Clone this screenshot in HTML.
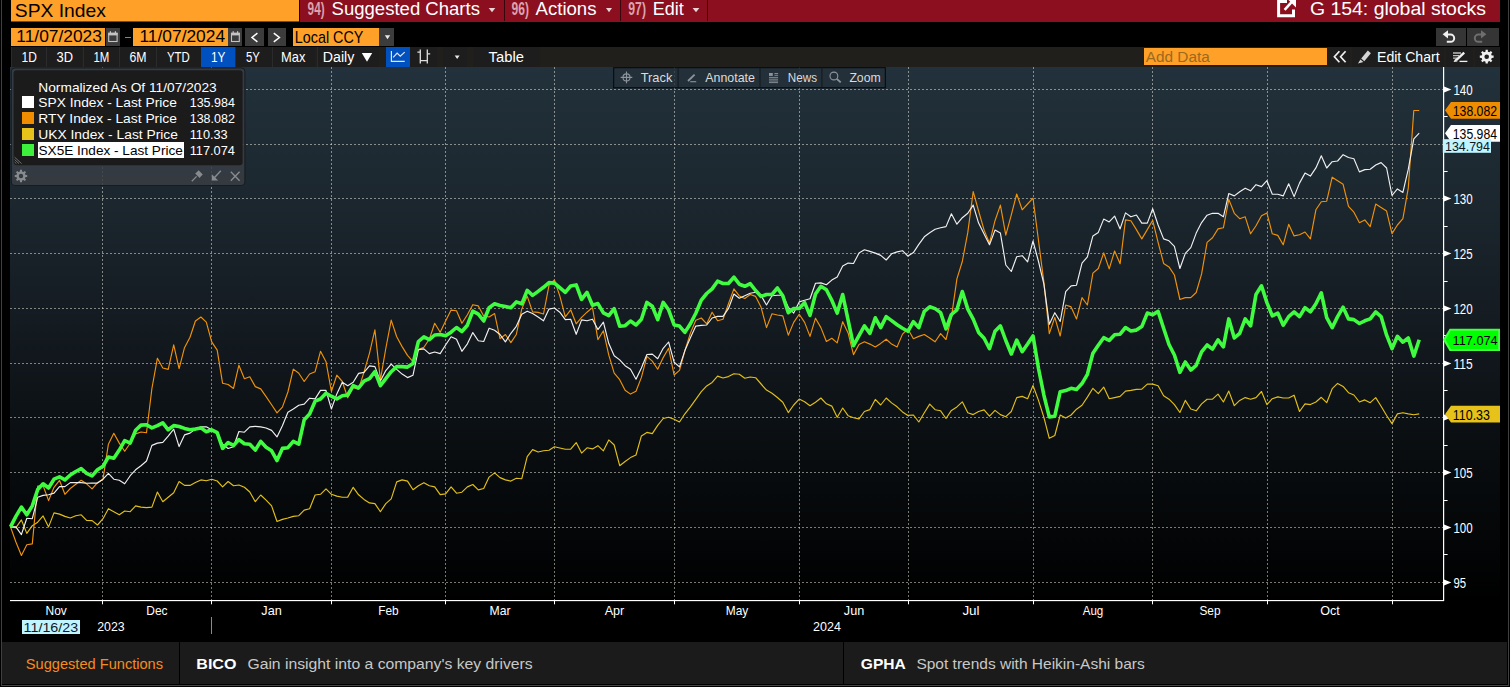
<!DOCTYPE html>
<html><head><meta charset="utf-8"><title>G 154</title>
<style>
html,body{margin:0;padding:0;background:#000;}
body{width:1510px;height:687px;overflow:hidden;position:relative;font-family:"Liberation Sans",sans-serif;}
.b{position:absolute;}
text{font-family:"Liberation Sans",sans-serif;white-space:pre;}
</style></head><body>
<div class="b" style="left:300.0px;top:0.0px;width:1200.0px;height:22.0px;background:#8B0F1F;"></div>
<div class="b" style="left:10.7px;top:0.0px;width:288.3px;height:21.0px;background:#FFA028;border-bottom:1px solid #7a4a10;"></div>
<div class="b" style="left:503.5px;top:0.0px;width:1.3px;height:21.0px;background:#3a060d;"></div>
<div class="b" style="left:619.5px;top:0.0px;width:1.3px;height:21.0px;background:#3a060d;"></div>
<div class="b" style="left:707.0px;top:0.0px;width:1.3px;height:21.0px;background:#3a060d;"></div>
<div class="b" style="left:10.7px;top:28.0px;width:94.3px;height:18.0px;background:#FFA028;"></div>
<div class="b" style="left:106.0px;top:28.0px;width:14.0px;height:18.0px;background:#3c3c3c;"></div>
<div class="b" style="left:125.0px;top:36.5px;width:6.0px;height:1.5px;background:#c87818;"></div>
<div class="b" style="left:133.0px;top:28.0px;width:94.5px;height:18.0px;background:#FFA028;"></div>
<div class="b" style="left:228.0px;top:28.0px;width:14.0px;height:18.0px;background:#3c3c3c;"></div>
<div class="b" style="left:245.0px;top:28.0px;width:19.0px;height:18.0px;background:#3c3c3c;"></div>
<div class="b" style="left:267.5px;top:28.0px;width:18.0px;height:18.0px;background:#3c3c3c;"></div>
<div class="b" style="left:292.8px;top:28.0px;width:86.2px;height:18.0px;background:#FFA028;"></div>
<div class="b" style="left:379.0px;top:28.0px;width:15.0px;height:18.0px;background:#3c3c3c;"></div>
<div class="b" style="left:1436.0px;top:28.0px;width:30.0px;height:18.0px;background:#353535;"></div>
<div class="b" style="left:1467.0px;top:28.0px;width:32.0px;height:18.0px;background:#353535;"></div>
<div class="b" style="left:10.7px;top:47.0px;width:1489.3px;height:20.0px;background:#201f1b;"></div>
<div class="b" style="left:10.9px;top:47.0px;width:35.4px;height:20.0px;background:#1d1d1d;border-left:1px solid #2b2b2b;box-sizing:border-box;"></div>
<div class="b" style="left:46.3px;top:47.0px;width:36.2px;height:20.0px;background:#1d1d1d;border-left:1px solid #2b2b2b;box-sizing:border-box;"></div>
<div class="b" style="left:82.5px;top:47.0px;width:36.7px;height:20.0px;background:#1d1d1d;border-left:1px solid #2b2b2b;box-sizing:border-box;"></div>
<div class="b" style="left:119.2px;top:47.0px;width:36.8px;height:20.0px;background:#1d1d1d;border-left:1px solid #2b2b2b;box-sizing:border-box;"></div>
<div class="b" style="left:156.0px;top:47.0px;width:44.7px;height:20.0px;background:#1d1d1d;border-left:1px solid #2b2b2b;box-sizing:border-box;"></div>
<div class="b" style="left:200.7px;top:47.0px;width:34.3px;height:20.0px;background:#0050c0;"></div>
<div class="b" style="left:235.0px;top:47.0px;width:37.2px;height:20.0px;background:#1d1d1d;border-left:1px solid #2b2b2b;box-sizing:border-box;"></div>
<div class="b" style="left:272.2px;top:47.0px;width:43.1px;height:20.0px;background:#1d1d1d;border-left:1px solid #2b2b2b;box-sizing:border-box;"></div>
<div class="b" style="left:317.0px;top:47.0px;width:62.3px;height:20.0px;background:#1d1d1d;border-left:1px solid #2b2b2b;box-sizing:border-box;"></div>
<div class="b" style="left:385.8px;top:47.0px;width:24.2px;height:20.0px;background:#0050c0;"></div>
<div class="b" style="left:410.0px;top:47.0px;width:26.5px;height:20.0px;background:#1d1d1d;"></div>
<div class="b" style="left:443.0px;top:47.0px;width:24.0px;height:20.0px;background:#1d1d1d;"></div>
<div class="b" style="left:472.7px;top:47.0px;width:67.3px;height:20.0px;background:#1d1d1d;"></div>
<div class="b" style="left:1144.0px;top:47.7px;width:183.0px;height:17.6px;background:#FFA028;"></div>
<div class="b" style="left:1329.0px;top:47.0px;width:21.0px;height:20.0px;background:#1d1d1d;"></div>
<div class="b" style="left:1351.7px;top:47.0px;width:92.8px;height:20.0px;background:#1d1d1d;"></div>
<div class="b" style="left:1446.0px;top:47.0px;width:27.3px;height:20.0px;background:#1d1d1d;"></div>
<div class="b" style="left:1474.5px;top:47.0px;width:24.8px;height:20.0px;background:#1d1d1d;"></div>
<svg class="b" style="left:0;top:0" width="1510" height="687" viewBox="0 0 1510 687">
<defs><linearGradient id="g" x1="0" y1="0" x2="0" y2="1"><stop offset="0" stop-color="#22313b"/><stop offset="0.2" stop-color="#1d2931"/><stop offset="0.4" stop-color="#171f26"/><stop offset="0.725" stop-color="#090d10"/><stop offset="1" stop-color="#000"/></linearGradient></defs>
<rect x="10" y="67" width="1490" height="534" fill="url(#g)"/>
<rect x="1444.5" y="601" width="56" height="41" fill="#000"/>
<g shape-rendering="crispEdges">
<line x1="102.5" y1="67" x2="102.5" y2="600" stroke="#fffff0" stroke-opacity="0.47" stroke-width="1" stroke-dasharray="2,2"/>
<line x1="211.5" y1="67" x2="211.5" y2="600" stroke="#fffff0" stroke-opacity="0.47" stroke-width="1" stroke-dasharray="2,2"/>
<line x1="331.5" y1="67" x2="331.5" y2="600" stroke="#fffff0" stroke-opacity="0.47" stroke-width="1" stroke-dasharray="2,2"/>
<line x1="445.5" y1="67" x2="445.5" y2="600" stroke="#fffff0" stroke-opacity="0.47" stroke-width="1" stroke-dasharray="2,2"/>
<line x1="554.5" y1="67" x2="554.5" y2="600" stroke="#fffff0" stroke-opacity="0.47" stroke-width="1" stroke-dasharray="2,2"/>
<line x1="674.5" y1="67" x2="674.5" y2="600" stroke="#fffff0" stroke-opacity="0.47" stroke-width="1" stroke-dasharray="2,2"/>
<line x1="799.5" y1="67" x2="799.5" y2="600" stroke="#fffff0" stroke-opacity="0.47" stroke-width="1" stroke-dasharray="2,2"/>
<line x1="908.5" y1="67" x2="908.5" y2="600" stroke="#fffff0" stroke-opacity="0.47" stroke-width="1" stroke-dasharray="2,2"/>
<line x1="1033.5" y1="67" x2="1033.5" y2="600" stroke="#fffff0" stroke-opacity="0.47" stroke-width="1" stroke-dasharray="2,2"/>
<line x1="1152.5" y1="67" x2="1152.5" y2="600" stroke="#fffff0" stroke-opacity="0.47" stroke-width="1" stroke-dasharray="2,2"/>
<line x1="1267.5" y1="67" x2="1267.5" y2="600" stroke="#fffff0" stroke-opacity="0.47" stroke-width="1" stroke-dasharray="2,2"/>
<line x1="1392.5" y1="67" x2="1392.5" y2="600" stroke="#fffff0" stroke-opacity="0.47" stroke-width="1" stroke-dasharray="2,2"/>
<line x1="10" y1="89.5" x2="1443" y2="89.5" stroke="#fffff0" stroke-opacity="0.47" stroke-width="1" stroke-dasharray="2,2"/>
<line x1="10" y1="144.5" x2="1443" y2="144.5" stroke="#fffff0" stroke-opacity="0.47" stroke-width="1" stroke-dasharray="2,2"/>
<line x1="10" y1="198.5" x2="1443" y2="198.5" stroke="#fffff0" stroke-opacity="0.47" stroke-width="1" stroke-dasharray="2,2"/>
<line x1="10" y1="253.5" x2="1443" y2="253.5" stroke="#fffff0" stroke-opacity="0.47" stroke-width="1" stroke-dasharray="2,2"/>
<line x1="10" y1="308.5" x2="1443" y2="308.5" stroke="#fffff0" stroke-opacity="0.47" stroke-width="1" stroke-dasharray="2,2"/>
<line x1="10" y1="363.5" x2="1443" y2="363.5" stroke="#fffff0" stroke-opacity="0.47" stroke-width="1" stroke-dasharray="2,2"/>
<line x1="10" y1="417.5" x2="1443" y2="417.5" stroke="#fffff0" stroke-opacity="0.47" stroke-width="1" stroke-dasharray="2,2"/>
<line x1="10" y1="472.5" x2="1443" y2="472.5" stroke="#fffff0" stroke-opacity="0.47" stroke-width="1" stroke-dasharray="2,2"/>
<line x1="10" y1="527.5" x2="1443" y2="527.5" stroke="#fffff0" stroke-opacity="0.47" stroke-width="1" stroke-dasharray="2,2"/>
<line x1="10" y1="582.5" x2="1443" y2="582.5" stroke="#fffff0" stroke-opacity="0.47" stroke-width="1" stroke-dasharray="2,2"/>
</g>
<rect x="102.0" y="600" width="1" height="4.3" fill="#fff"/>
<rect x="211.0" y="600" width="1" height="4.3" fill="#fff"/>
<rect x="331.0" y="600" width="1" height="4.3" fill="#fff"/>
<rect x="445.0" y="600" width="1" height="4.3" fill="#fff"/>
<rect x="554.0" y="600" width="1" height="4.3" fill="#fff"/>
<rect x="674.0" y="600" width="1" height="4.3" fill="#fff"/>
<rect x="799.0" y="600" width="1" height="4.3" fill="#fff"/>
<rect x="908.0" y="600" width="1" height="4.3" fill="#fff"/>
<rect x="1033.0" y="600" width="1" height="4.3" fill="#fff"/>
<rect x="1152.0" y="600" width="1" height="4.3" fill="#fff"/>
<rect x="1267.0" y="600" width="1" height="4.3" fill="#fff"/>
<rect x="1392.0" y="600" width="1" height="4.3" fill="#fff"/>
<rect x="613.7" y="67.7" width="271.6" height="20.1" fill="#26313a" fill-opacity="0.8" stroke="#04070a" stroke-width="1"/>
<line x1="678.1" y1="68.3" x2="678.1" y2="87.3" stroke="#141b21" stroke-width="1.2"/>
<line x1="760" y1="68.3" x2="760" y2="87.3" stroke="#141b21" stroke-width="1.2"/>
<line x1="821.9" y1="68.3" x2="821.9" y2="87.3" stroke="#141b21" stroke-width="1.2"/>
<rect x="11.3" y="68" width="233.6" height="117.5" rx="3.5" fill="#383e43" fill-opacity="0.86" stroke="#161b1f" stroke-width="1"/>
<rect x="13.6" y="70.3" width="229" height="95" rx="3" fill="#1b1b1b"/>
<polyline points="10.5,526.9 15.9,527.6 21.4,519.9 26.8,533.4 32.3,525.7 37.7,522.2 43.1,515.9 48.6,526.9 54.0,512.9 59.5,514.1 64.9,516.4 70.3,518.0 75.8,515.7 81.2,514.8 86.6,520.4 92.1,520.6 97.5,525.0 103.0,518.7 108.4,508.7 113.8,511.7 119.3,514.8 124.7,511.0 130.2,511.7 135.6,505.9 141.0,507.1 146.5,507.6 151.9,507.1 157.4,492.0 162.8,501.7 168.2,497.3 173.7,492.7 179.1,481.5 184.5,485.4 190.0,485.4 195.4,482.6 200.9,479.9 206.3,480.8 211.7,479.2 217.2,481.0 222.6,486.8 228.1,481.5 233.5,485.7 238.9,485.0 244.4,487.3 249.8,492.0 255.3,501.7 260.7,495.0 266.1,500.1 271.6,505.9 277.0,521.5 282.4,519.4 287.9,518.0 293.3,516.4 298.8,515.7 304.2,510.1 309.6,508.7 315.1,495.0 320.5,494.3 326.0,488.9 331.4,494.3 336.8,496.1 342.3,497.3 347.7,497.1 353.2,487.3 358.6,494.8 364.0,499.4 369.5,502.9 374.9,503.6 380.4,511.7 385.8,503.6 391.2,498.9 396.7,481.9 402.1,479.9 407.5,481.1 413.0,489.7 418.4,485.7 423.9,482.7 429.3,485.7 434.7,486.9 440.2,494.6 445.6,493.9 451.1,486.9 456.5,493.2 461.9,492.2 467.4,486.9 472.8,484.5 478.3,489.9 483.7,488.5 489.1,477.1 494.6,472.9 500.0,477.6 505.4,479.9 510.9,481.1 516.3,478.3 521.8,478.7 527.2,456.6 532.6,449.6 538.1,452.0 543.5,450.8 549.0,450.3 554.4,446.8 559.8,448.0 565.3,449.2 570.7,449.2 576.2,442.6 581.6,453.1 587.0,447.8 592.5,448.9 597.9,445.7 603.4,450.8 608.8,439.9 614.2,445.0 619.7,465.7 625.1,461.5 630.5,457.6 636.0,455.0 641.4,435.9 646.9,432.4 652.3,433.6 657.7,425.4 663.2,418.5 668.6,417.3 674.1,419.2 679.5,422.0 684.9,413.8 690.4,406.8 695.8,399.4 701.3,391.7 706.7,385.9 712.1,382.4 717.6,376.1 723.0,378.0 728.4,376.6 733.9,373.8 739.3,374.2 744.8,378.2 750.2,377.0 755.6,377.7 761.1,384.0 766.5,390.1 772.0,393.3 777.4,397.5 782.8,402.2 788.3,412.6 793.7,405.0 799.2,399.1 804.6,401.7 810.0,405.7 815.5,402.2 820.9,398.0 826.4,403.8 831.8,406.1 837.2,417.3 842.7,408.0 848.1,415.7 853.5,417.8 859.0,418.9 864.4,411.5 869.9,409.6 875.3,399.4 880.7,405.0 886.2,398.0 891.6,402.9 897.1,406.8 902.5,411.9 907.9,415.4 913.4,415.0 918.8,422.0 924.3,412.7 929.7,404.1 935.1,409.7 940.6,410.8 946.0,418.5 951.4,410.4 956.9,406.9 962.3,401.8 967.8,412.7 973.2,414.6 978.6,411.5 984.1,409.9 989.5,416.2 995.0,410.4 1000.4,414.6 1005.8,416.7 1011.3,411.5 1016.7,397.6 1022.2,396.4 1027.6,398.7 1033.0,385.5 1038.5,400.4 1043.9,417.4 1049.3,438.3 1054.8,435.5 1060.2,415.0 1065.7,418.1 1071.1,415.0 1076.5,409.2 1082.0,405.2 1087.4,397.1 1092.9,388.3 1098.3,393.6 1103.7,387.1 1109.2,398.7 1114.6,397.6 1120.1,396.4 1125.5,391.1 1130.9,390.4 1136.4,389.4 1141.8,389.2 1147.3,384.1 1152.7,384.1 1158.1,385.7 1163.6,395.7 1169.0,399.2 1174.4,404.6 1179.9,412.5 1185.3,400.4 1190.8,409.0 1196.2,410.8 1201.6,403.9 1207.1,399.2 1212.5,399.2 1218.0,394.1 1223.4,402.0 1228.8,391.1 1234.3,405.7 1239.7,400.4 1245.2,397.6 1250.6,399.2 1256.0,397.6 1261.5,391.5 1266.9,404.6 1272.3,398.7 1277.8,396.9 1283.2,398.0 1288.7,398.0 1294.1,395.2 1299.5,411.5 1305.0,403.9 1310.4,404.6 1315.9,402.0 1321.3,397.3 1326.7,402.7 1332.2,388.7 1337.6,383.4 1343.1,386.4 1348.5,392.7 1353.9,395.0 1359.4,402.0 1364.8,399.9 1370.2,402.7 1375.7,397.6 1381.1,406.2 1386.6,415.5 1392.0,423.6 1397.4,413.9 1402.9,412.7 1408.3,413.9 1413.8,414.8 1419.2,413.9" fill="none" stroke="#e2c01a" stroke-width="1.15" stroke-linejoin="round"/>
<polyline points="10.5,526.9 15.9,542.0 21.4,555.5 26.8,544.8 32.3,543.9 37.7,486.1 43.1,485.7 48.6,500.6 54.0,487.3 59.5,480.3 64.9,494.3 70.3,488.5 75.8,484.3 81.2,480.3 86.6,483.8 92.1,488.9 97.5,482.6 103.0,479.2 108.4,444.2 113.8,433.3 119.3,443.1 124.7,451.3 130.2,443.2 135.6,433.9 141.0,432.0 146.5,432.7 151.9,388.5 157.4,358.2 162.8,368.0 168.2,369.4 173.7,344.9 179.1,368.7 184.5,347.7 190.0,337.2 195.4,321.0 200.9,317.0 206.3,322.1 211.7,341.9 217.2,350.1 222.6,383.3 228.1,384.5 233.5,388.5 238.9,365.2 244.4,378.7 249.8,376.8 255.3,386.6 260.7,388.9 266.1,396.6 271.6,404.8 277.0,412.9 282.4,407.1 287.9,392.0 293.3,369.1 298.8,373.3 304.2,381.5 309.6,374.0 315.1,371.7 320.5,351.3 326.0,361.7 331.4,391.5 336.8,375.2 342.3,381.5 347.7,397.8 353.2,387.6 358.6,389.2 364.0,372.2 369.5,353.1 374.9,329.8 380.4,379.9 385.8,348.5 391.2,320.1 396.7,336.8 402.1,346.6 407.5,355.4 413.0,361.7 418.4,349.6 423.9,347.3 429.3,339.2 434.7,323.3 440.2,332.2 445.6,321.0 451.1,310.1 456.5,310.8 461.9,323.3 467.4,314.7 472.8,304.7 478.3,305.9 483.7,315.9 489.1,317.0 494.6,313.5 500.0,338.7 505.4,334.5 510.9,342.6 516.3,334.5 521.8,308.9 527.2,296.1 532.6,311.9 538.1,312.4 543.5,314.0 549.0,285.4 554.4,280.0 559.8,295.9 565.3,316.8 570.7,309.8 576.2,323.8 581.6,317.3 587.0,312.2 592.5,307.5 597.9,339.6 603.4,330.8 608.8,355.2 614.2,373.2 619.7,379.7 625.1,390.2 630.5,394.1 636.0,391.3 641.4,377.4 646.9,356.4 652.3,361.1 657.7,369.2 663.2,357.6 668.6,348.3 674.1,375.0 679.5,370.4 684.9,350.6 690.4,333.1 695.8,320.3 701.3,318.0 706.7,323.8 712.1,312.2 717.6,320.8 723.0,319.2 728.4,304.0 733.9,288.9 739.3,295.9 744.8,298.5 750.2,294.5 755.6,296.4 761.1,307.3 766.5,327.6 772.0,313.8 777.4,315.0 782.8,315.9 788.3,335.2 793.7,322.4 799.2,314.3 804.6,322.4 810.0,336.4 815.5,318.2 820.9,327.6 826.4,341.5 831.8,338.3 837.2,342.9 842.7,321.7 848.1,332.9 853.5,354.6 859.0,344.5 864.4,341.8 869.9,344.1 875.3,346.9 880.7,343.4 886.2,339.2 891.6,344.1 897.1,346.9 902.5,334.1 907.9,329.0 913.4,338.7 918.8,336.4 924.3,334.5 929.7,338.0 935.1,341.8 940.6,333.6 946.0,339.5 951.4,317.4 956.9,278.9 962.3,261.5 967.8,232.4 973.2,191.6 978.6,211.0 984.1,230.1 989.5,242.9 995.0,220.7 1000.4,205.1 1005.8,235.2 1011.3,214.9 1016.7,194.0 1022.2,209.8 1027.6,204.0 1033.0,198.2 1038.5,240.5 1043.9,282.4 1049.3,333.6 1054.8,317.4 1060.2,336.0 1065.7,305.0 1071.1,306.9 1076.5,319.0 1082.0,297.6 1087.4,305.0 1092.9,273.1 1098.3,268.5 1103.7,252.9 1109.2,268.9 1114.6,251.0 1120.1,263.8 1125.5,219.9 1130.9,220.8 1136.4,229.6 1141.8,238.9 1147.3,229.6 1152.7,220.3 1158.1,242.4 1163.6,263.4 1169.0,266.9 1174.4,275.0 1179.9,299.5 1185.3,297.6 1190.8,297.6 1196.2,292.5 1201.6,273.9 1207.1,242.4 1212.5,237.8 1218.0,228.9 1223.4,227.8 1228.8,199.4 1234.3,213.3 1239.7,218.7 1245.2,216.8 1250.6,233.8 1256.0,225.7 1261.5,215.7 1266.9,212.9 1272.3,233.8 1277.8,235.4 1283.2,244.8 1288.7,224.3 1294.1,235.9 1299.5,234.8 1305.0,232.0 1310.4,238.9 1315.9,209.8 1321.3,201.7 1326.7,201.2 1332.2,177.2 1337.6,180.7 1343.1,184.3 1348.5,206.4 1353.9,212.2 1359.4,222.7 1364.8,219.9 1370.2,226.7 1375.7,204.1 1381.1,207.6 1386.6,211.1 1392.0,233.6 1397.4,225.0 1402.9,218.7 1408.3,187.8 1413.8,110.5 1419.2,110.5" fill="none" stroke="#f0920a" stroke-width="1.15" stroke-linejoin="round"/>
<polyline points="10.5,526.9 15.9,526.9 21.4,534.6 26.8,518.3 32.3,518.7 37.7,497.3 43.1,495.4 48.6,494.8 54.0,493.1 59.5,486.6 64.9,486.6 70.3,482.6 75.8,482.6 81.2,482.6 86.6,483.3 92.1,483.1 97.5,483.1 103.0,479.2 108.4,473.3 113.8,479.2 119.3,480.3 124.7,483.8 130.2,475.7 135.6,469.8 141.0,465.7 146.5,461.0 151.9,445.4 157.4,443.1 162.8,442.4 168.2,436.1 173.7,429.1 179.1,446.6 184.5,434.9 190.0,433.1 195.4,429.1 200.9,426.8 206.3,426.8 211.7,429.8 217.2,432.6 222.6,444.3 228.1,448.5 233.5,446.7 238.9,431.5 244.4,432.2 249.8,426.9 255.3,426.4 260.7,426.9 266.1,428.0 271.6,430.4 277.0,436.9 282.4,425.7 287.9,412.2 293.3,409.0 298.8,405.2 304.2,404.1 309.6,398.2 315.1,398.9 320.5,390.4 326.0,390.4 331.4,409.0 336.8,393.9 342.3,382.2 347.7,385.7 353.2,382.2 358.6,373.4 364.0,372.4 369.5,365.9 374.9,366.6 380.4,381.1 385.8,370.6 391.2,364.1 396.7,369.4 402.1,374.1 407.5,377.6 413.0,375.2 418.4,349.6 423.9,348.9 429.3,353.6 434.7,352.0 440.2,353.6 445.6,345.0 451.1,336.8 456.5,339.2 461.9,351.3 467.4,343.8 472.8,332.6 478.3,340.8 483.7,341.5 489.1,328.2 494.6,330.3 500.0,334.5 505.4,341.9 510.9,333.3 516.3,326.3 521.8,314.2 527.2,311.2 532.6,313.5 538.1,317.0 543.5,320.8 549.0,309.1 554.4,308.0 559.8,312.2 565.3,319.6 570.7,319.2 576.2,334.3 581.6,319.9 587.0,320.8 592.5,319.2 597.9,329.6 603.4,322.2 608.8,343.6 614.2,355.7 619.7,359.9 625.1,365.7 630.5,369.2 636.0,379.2 641.4,368.0 646.9,354.5 652.3,354.1 657.7,358.7 663.2,348.3 668.6,342.0 674.1,362.2 679.5,366.9 684.9,350.6 690.4,337.8 695.8,326.1 701.3,325.4 706.7,325.0 712.1,318.0 717.6,316.4 723.0,316.4 728.4,308.7 733.9,294.0 739.3,298.2 744.8,295.7 750.2,293.3 755.6,292.2 761.1,295.7 766.5,305.0 772.0,295.7 777.4,295.2 782.8,295.2 788.3,307.3 793.7,313.1 799.2,301.9 804.6,300.3 810.0,298.7 815.5,283.3 820.9,282.9 826.4,284.7 831.8,280.1 837.2,277.0 842.7,266.1 848.1,263.1 853.5,263.5 859.0,253.1 864.4,249.8 869.9,251.4 875.3,253.1 880.7,255.4 886.2,260.0 891.6,253.8 897.1,251.9 902.5,250.7 907.9,256.1 913.4,252.6 918.8,244.4 924.3,236.8 929.7,232.8 935.1,229.3 940.6,227.7 946.0,226.6 951.4,213.8 956.9,224.2 962.3,217.7 967.8,213.3 973.2,205.1 978.6,223.1 984.1,234.0 989.5,244.7 995.0,230.1 1000.4,233.1 1005.8,265.0 1011.3,271.5 1016.7,256.8 1022.2,255.7 1027.6,261.9 1033.0,241.0 1038.5,261.5 1043.9,284.1 1049.3,324.3 1054.8,312.7 1060.2,321.5 1065.7,291.7 1071.1,285.9 1076.5,285.2 1082.0,263.1 1087.4,256.8 1092.9,235.9 1098.3,232.4 1103.7,219.1 1109.2,221.9 1114.6,216.1 1120.1,228.9 1125.5,212.9 1130.9,216.8 1136.4,215.0 1141.8,223.1 1147.3,223.1 1152.7,208.7 1158.1,225.0 1163.6,238.9 1169.0,240.8 1174.4,246.4 1179.9,268.5 1185.3,253.4 1190.8,247.6 1196.2,233.1 1201.6,222.6 1207.1,215.2 1212.5,213.3 1218.0,213.3 1223.4,216.8 1228.8,193.5 1234.3,195.9 1239.7,191.7 1245.2,188.2 1250.6,190.8 1256.0,184.7 1261.5,186.6 1266.9,180.7 1272.3,194.2 1277.8,194.2 1283.2,195.9 1288.7,183.8 1294.1,196.6 1299.5,183.1 1305.0,173.1 1310.4,176.1 1315.9,167.9 1321.3,155.8 1326.7,168.0 1332.2,161.7 1337.6,161.0 1343.1,154.7 1348.5,157.5 1353.9,158.7 1359.4,171.9 1364.8,169.6 1370.2,169.2 1375.7,165.0 1381.1,162.6 1386.6,168.0 1392.0,195.5 1397.4,188.9 1402.9,192.4 1408.3,169.2 1413.8,138.9 1419.2,133.1" fill="none" stroke="#f0f0f0" stroke-width="1.15" stroke-linejoin="round"/>
<polyline points="10.5,526.9 15.9,516.4 21.4,507.1 26.8,514.8 32.3,505.9 37.7,489.6 43.1,483.8 48.6,488.0 54.0,479.2 59.5,476.8 64.9,479.9 70.3,475.0 75.8,471.5 81.2,468.7 86.6,473.3 92.1,475.9 97.5,469.8 103.0,466.3 108.4,457.0 113.8,458.2 119.3,450.1 124.7,440.7 130.2,443.1 135.6,430.3 141.0,425.1 146.5,424.7 151.9,427.9 157.4,425.6 162.8,422.8 168.2,429.8 173.7,425.6 179.1,426.5 184.5,428.4 190.0,429.8 195.4,429.1 200.9,427.9 206.3,431.7 211.7,429.8 217.2,432.6 222.6,448.4 228.1,442.6 233.5,445.4 238.9,439.6 244.4,443.8 249.8,444.2 255.3,450.1 260.7,441.4 266.1,447.3 271.6,450.8 277.0,460.5 282.4,448.4 287.9,447.7 293.3,441.4 298.8,444.2 304.2,419.8 309.6,414.0 315.1,401.2 320.5,399.0 326.0,393.2 331.4,396.2 336.8,399.0 342.3,395.7 347.7,395.0 353.2,385.7 358.6,388.0 364.0,381.1 369.5,378.7 374.9,371.7 380.4,385.7 385.8,378.7 391.2,371.7 396.7,366.6 402.1,366.6 407.5,367.1 413.0,363.6 418.4,341.5 423.9,336.8 429.3,339.6 434.7,335.0 440.2,334.5 445.6,335.7 451.1,332.2 456.5,327.5 461.9,331.5 467.4,325.2 472.8,311.2 478.3,314.2 483.7,321.0 489.1,307.7 494.6,303.8 500.0,305.4 505.4,306.6 510.9,307.7 516.3,301.9 521.8,303.8 527.2,290.3 532.6,295.4 538.1,291.4 543.5,287.3 549.0,282.6 554.4,283.1 559.8,287.7 565.3,292.4 570.7,285.9 576.2,284.9 581.6,299.4 587.0,292.4 592.5,305.2 597.9,303.6 603.4,312.9 608.8,315.7 614.2,308.7 619.7,326.1 625.1,325.7 630.5,321.0 636.0,325.0 641.4,319.2 646.9,302.4 652.3,306.3 657.7,319.6 663.2,302.4 668.6,309.8 674.1,325.0 679.5,326.1 684.9,332.4 690.4,323.8 695.8,313.3 701.3,300.1 706.7,293.5 712.1,288.9 717.6,281.2 723.0,283.5 728.4,283.5 733.9,277.2 739.3,284.2 744.8,286.3 750.2,283.6 755.6,290.5 761.1,296.4 766.5,294.5 772.0,294.5 777.4,288.0 782.8,295.7 788.3,312.7 793.7,308.5 799.2,308.5 804.6,302.6 810.0,315.4 815.5,294.0 820.9,286.3 826.4,289.8 831.8,300.3 837.2,313.1 842.7,294.5 848.1,320.1 853.5,345.7 859.0,335.7 864.4,325.9 869.9,333.4 875.3,317.8 880.7,327.6 886.2,316.6 891.6,320.6 897.1,324.8 902.5,328.3 907.9,331.3 913.4,321.7 918.8,327.6 924.3,311.4 929.7,306.8 935.1,308.6 940.6,312.6 946.0,328.9 951.4,314.5 956.9,309.8 962.3,291.6 967.8,309.1 973.2,319.1 978.6,332.4 984.1,338.2 989.5,348.7 995.0,331.2 1000.4,325.9 1005.8,340.5 1011.3,354.0 1016.7,340.1 1022.2,351.7 1027.6,344.0 1033.0,335.9 1038.5,368.5 1043.9,395.2 1049.3,416.9 1054.8,416.2 1060.2,391.7 1065.7,390.6 1071.1,388.3 1076.5,389.4 1082.0,383.6 1087.4,374.3 1092.9,353.3 1098.3,345.2 1103.7,337.7 1109.2,340.5 1114.6,334.7 1120.1,334.2 1125.5,327.5 1130.9,331.0 1136.4,330.1 1141.8,326.6 1147.3,313.1 1152.7,314.7 1158.1,311.4 1163.6,328.2 1169.0,344.5 1174.4,355.0 1179.9,372.4 1185.3,362.0 1190.8,370.1 1196.2,365.4 1201.6,351.9 1207.1,345.0 1212.5,349.2 1218.0,339.8 1223.4,346.8 1228.8,318.9 1234.3,338.0 1239.7,333.3 1245.2,318.9 1250.6,325.9 1256.0,294.4 1261.5,285.8 1266.9,302.6 1272.3,315.9 1277.8,313.1 1283.2,325.2 1288.7,316.6 1294.1,311.9 1299.5,316.6 1305.0,307.7 1310.4,311.9 1315.9,303.8 1321.3,292.8 1326.7,317.7 1332.2,327.7 1337.6,316.6 1343.1,307.2 1348.5,318.9 1353.9,319.6 1359.4,323.5 1364.8,320.8 1370.2,318.9 1375.7,311.9 1381.1,316.6 1386.6,335.2 1392.0,348.7 1397.4,336.3 1402.9,342.2 1408.3,338.0 1413.8,356.1 1419.2,339.8" fill="none" stroke="#40fc40" stroke-width="3.6" stroke-linejoin="round" stroke-linecap="butt"/>
<rect x="10" y="600" width="1434" height="1.15" fill="#fff"/>
<rect x="1443" y="67" width="1.2" height="534" fill="#fff"/>
<polygon points="1444,579.6 1451.4,582.5 1444,585.4" fill="#fff"/>
<polygon points="1444,524.6 1451.4,527.5 1444,530.4" fill="#fff"/>
<polygon points="1444,469.6 1451.4,472.5 1444,475.4" fill="#fff"/>
<polygon points="1444,414.6 1451.4,417.5 1444,420.4" fill="#fff"/>
<polygon points="1444,360.6 1451.4,363.5 1444,366.4" fill="#fff"/>
<polygon points="1444,305.6 1451.4,308.5 1444,311.4" fill="#fff"/>
<polygon points="1444,250.6 1451.4,253.5 1444,256.4" fill="#fff"/>
<polygon points="1444,195.6 1451.4,198.5 1444,201.4" fill="#fff"/>
<polygon points="1444,141.6 1451.4,144.5 1444,147.4" fill="#fff"/>
<polygon points="1444,86.6 1451.4,89.5 1444,92.4" fill="#fff"/>
<rect x="1444" y="554.0" width="3.6" height="1" fill="#fff"/>
<rect x="1444" y="500.0" width="3.6" height="1" fill="#fff"/>
<rect x="1444" y="445.0" width="3.6" height="1" fill="#fff"/>
<rect x="1444" y="390.0" width="3.6" height="1" fill="#fff"/>
<rect x="1444" y="335.0" width="3.6" height="1" fill="#fff"/>
<rect x="1444" y="281.0" width="3.6" height="1" fill="#fff"/>
<rect x="1444" y="226.0" width="3.6" height="1" fill="#fff"/>
<rect x="1444" y="171.0" width="3.6" height="1" fill="#fff"/>
<rect x="1444" y="116.0" width="3.6" height="1" fill="#fff"/>
<polygon points="1445,110.3 1451,101.9 1500,101.9 1500,118.7 1451,118.7" fill="#f08c00"/>
<polygon points="1445,133.3 1451,124.9 1500,124.9 1500,141.7 1451,141.7" fill="#ffffff"/>
<polygon points="1443,339.8 1449.6,328.7 1500,328.7 1500,350.90000000000003 1449.6,350.90000000000003" fill="#44ff44"/>
<polygon points="1445.6,339.8 1450.8,330.7 1498,330.7 1498,348.90000000000003 1450.8,348.90000000000003" fill="#00ff00"/>
<polygon points="1445,414.2 1451,405.8 1500,405.8 1500,422.6 1451,422.6" fill="#e6c21a"/>
<rect x="1442.8" y="139.2" width="48.2" height="13.6" fill="#c0f4ff"/>
</svg>
<div class="b" style="left:22.0px;top:96.0px;width:12.0px;height:12.0px;background:#ffffff;"></div>
<div class="b" style="left:22.0px;top:112.0px;width:12.0px;height:12.0px;background:#f08c00;"></div>
<div class="b" style="left:22.0px;top:128.0px;width:12.0px;height:12.0px;background:#e6c21a;"></div>
<div class="b" style="left:22.0px;top:144.0px;width:12.0px;height:12.0px;background:#3cf03c;"></div>
<div class="b" style="left:37.9px;top:142.3px;width:146.1px;height:15.3px;background:#fff;"></div>
<div class="b" style="left:22.0px;top:620.0px;width:58.2px;height:14.0px;background:#c0f4ff;"></div>
<div class="b" style="left:210.8px;top:617.0px;width:1.0px;height:16.7px;background:#8a8a8a;"></div>
<div class="b" style="left:2.0px;top:641.5px;width:1505.0px;height:42.5px;background:#1b1b1b;"></div>
<div class="b" style="left:1.0px;top:685.0px;width:1508.0px;height:1.0px;background:#464646;"></div>
<div class="b" style="left:179.3px;top:641.5px;width:1.2px;height:42.5px;background:#000;"></div>
<div class="b" style="left:843.0px;top:641.5px;width:1.2px;height:42.5px;background:#000;"></div>
<div class="b" style="left:1.0px;top:0.0px;width:1.0px;height:686.0px;background:#404040;"></div>
<div class="b" style="left:1508.0px;top:0.0px;width:1.0px;height:686.0px;background:#404040;"></div>
<svg class="b" style="left:0;top:0" width="1510" height="687" viewBox="0 0 1510 687">
<text transform="translate(14.80,17) scale(1.001,1)" font-size="19.27" fill="#000">SPX Index</text>
<text transform="translate(307.60,15) scale(0.643,1)" font-size="18.30" fill="#dba3ad" font-weight="bold">94)</text>
<text transform="translate(331.60,15) scale(1.013,1)" font-size="18.30" fill="#fff">Suggested Charts</text>
<text transform="translate(511.60,15) scale(0.658,1)" font-size="18.30" fill="#dba3ad" font-weight="bold">96)</text>
<text transform="translate(535.60,15) scale(1.015,1)" font-size="18.30" fill="#fff">Actions</text>
<text transform="translate(628.30,15) scale(0.669,1)" font-size="18.30" fill="#dba3ad" font-weight="bold">97)</text>
<text transform="translate(652.70,15) scale(0.985,1)" font-size="18.30" fill="#fff">Edit</text>
<text transform="translate(1309.90,15) scale(1.096,1)" font-size="17.74" fill="#fff">G 154: global stocks</text>
<text transform="translate(16.30,42) scale(1.101,1)" font-size="15.78" fill="#000">11/07/2023</text>
<text transform="translate(139.50,42) scale(1.101,1)" font-size="15.78" fill="#000">11/07/2024</text>
<text transform="translate(294.80,43) scale(0.835,1)" font-size="17.18" fill="#000">Local CCY</text>
<text transform="translate(21.50,62) scale(0.800,1)" font-size="14.94" fill="#fff">1D</text>
<text transform="translate(56.60,62) scale(0.863,1)" font-size="14.94" fill="#fff">3D</text>
<text transform="translate(93.40,62) scale(0.765,1)" font-size="14.94" fill="#fff">1M</text>
<text transform="translate(129.50,62) scale(0.823,1)" font-size="14.94" fill="#fff">6M</text>
<text transform="translate(166.90,62) scale(0.763,1)" font-size="14.94" fill="#fff">YTD</text>
<text transform="translate(211.00,62) scale(0.792,1)" font-size="14.94" fill="#fff">1Y</text>
<text transform="translate(246.00,62) scale(0.759,1)" font-size="14.94" fill="#fff">5Y</text>
<text transform="translate(281.00,62) scale(0.864,1)" font-size="14.94" fill="#fff">Max</text>
<text transform="translate(322.70,62) scale(0.953,1)" font-size="14.94" fill="#fff">Daily</text>
<text transform="translate(488.60,62) scale(0.988,1)" font-size="14.94" fill="#fff">Table</text>
<text transform="translate(1145.80,62) scale(1.027,1)" font-size="14.94" fill="#9a6a1e">Add Data</text>
<text transform="translate(1377.00,62) scale(0.944,1)" font-size="14.94" fill="#fff">Edit Chart</text>
<text transform="translate(1453.40,588) scale(0.813,1)" font-size="13.97" fill="#fff">95</text>
<text transform="translate(1453.40,533) scale(0.827,1)" font-size="13.97" fill="#fff">100</text>
<text transform="translate(1453.40,478) scale(0.827,1)" font-size="13.97" fill="#fff">105</text>
<text transform="translate(1453.40,369) scale(0.866,1)" font-size="13.97" fill="#fff">115</text>
<text transform="translate(1453.40,314) scale(0.827,1)" font-size="13.97" fill="#fff">120</text>
<text transform="translate(1453.40,259) scale(0.827,1)" font-size="13.97" fill="#fff">125</text>
<text transform="translate(1453.40,204) scale(0.827,1)" font-size="13.97" fill="#fff">130</text>
<text transform="translate(1453.40,95) scale(0.827,1)" font-size="13.97" fill="#fff">140</text>
<text transform="translate(1452.80,116) scale(0.850,1)" font-size="14.39" fill="#000">138.082</text>
<text transform="translate(1452.80,139) scale(0.850,1)" font-size="14.39" fill="#000">135.984</text>
<text transform="translate(1452.60,345) scale(0.940,1)" font-size="13.55" fill="#000">117.074</text>
<text transform="translate(1452.80,420) scale(0.866,1)" font-size="14.39" fill="#000">110.33</text>
<text transform="translate(1445.00,151) scale(0.979,1)" font-size="12.71" fill="#10181c">134.794</text>
<text transform="translate(640.70,82) scale(0.991,1)" font-size="12.99" fill="#dcdcdc">Track</text>
<text transform="translate(705.30,82) scale(0.955,1)" font-size="12.99" fill="#dcdcdc">Annotate</text>
<text transform="translate(787.80,82) scale(0.899,1)" font-size="12.99" fill="#dcdcdc">News</text>
<text transform="translate(849.40,82) scale(0.943,1)" font-size="12.99" fill="#dcdcdc">Zoom</text>
<text transform="translate(38.30,92) scale(1.036,1)" font-size="13.27" fill="#fff">Normalized As Of 11/07/2023</text>
<text transform="translate(38.30,107) scale(1.073,1)" font-size="12.85" fill="#fff">SPX Index - Last Price</text>
<text transform="translate(189.70,107) scale(0.973,1)" font-size="12.85" fill="#fff">135.984</text>
<text transform="translate(38.30,123) scale(1.077,1)" font-size="12.85" fill="#fff">RTY Index - Last Price</text>
<text transform="translate(189.70,123) scale(0.973,1)" font-size="12.85" fill="#fff">138.082</text>
<text transform="translate(38.30,139) scale(1.075,1)" font-size="12.85" fill="#fff">UKX Index - Last Price</text>
<text transform="translate(189.70,139) scale(0.991,1)" font-size="12.85" fill="#fff">110.33</text>
<text transform="translate(38.50,155) scale(1.059,1)" font-size="12.85" fill="#000">SX5E Index - Last Price</text>
<text transform="translate(189.70,155) scale(0.994,1)" font-size="12.85" fill="#fff">117.074</text>
<text transform="translate(45.60,615) scale(0.892,1)" font-size="13.41" fill="#fff">Nov</text>
<text transform="translate(146.35,615) scale(0.892,1)" font-size="13.41" fill="#fff">Dec</text>
<text transform="translate(261.30,615) scale(0.945,1)" font-size="13.41" fill="#fff">Jan</text>
<text transform="translate(378.25,615) scale(0.886,1)" font-size="13.41" fill="#fff">Feb</text>
<text transform="translate(489.50,615) scale(0.911,1)" font-size="13.41" fill="#fff">Mar</text>
<text transform="translate(604.70,615) scale(0.940,1)" font-size="13.41" fill="#fff">Apr</text>
<text transform="translate(725.75,615) scale(0.888,1)" font-size="13.41" fill="#fff">May</text>
<text transform="translate(843.80,615) scale(0.945,1)" font-size="13.41" fill="#fff">Jun</text>
<text transform="translate(962.40,615) scale(1.002,1)" font-size="13.41" fill="#fff">Jul</text>
<text transform="translate(1082.70,615) scale(0.863,1)" font-size="13.41" fill="#fff">Aug</text>
<text transform="translate(1199.50,615) scale(0.880,1)" font-size="13.41" fill="#fff">Sep</text>
<text transform="translate(1320.20,615) scale(0.940,1)" font-size="13.41" fill="#fff">Oct</text>
<text transform="translate(23.60,632) scale(1.102,1)" font-size="12.99" fill="#10181c">11/16/23</text>
<text transform="translate(97.20,631) scale(0.941,1)" font-size="13.13" fill="#fff">2023</text>
<text transform="translate(813.10,631) scale(0.952,1)" font-size="13.13" fill="#fff">2024</text>
<text transform="translate(25.80,669) scale(0.979,1)" font-size="14.94" fill="#f58c1e">Suggested Functions</text>
<text transform="translate(196.30,669) scale(1.104,1)" font-size="14.53" fill="#fff" font-weight="bold">BICO</text>
<text transform="translate(247.40,669) scale(1.054,1)" font-size="14.94" fill="#c8c8c8">Gain insight into a company's key drivers</text>
<text transform="translate(860.80,669) scale(1.072,1)" font-size="14.53" fill="#fff" font-weight="bold">GPHA</text>
<text transform="translate(916.40,669) scale(1.038,1)" font-size="14.94" fill="#c8c8c8">Spot trends with Heikin-Ashi bars</text>
</svg>
<svg class="b" style="left:0;top:0" width="1510" height="687" viewBox="0 0 1510 687">
<polygon points="488.7,8 495.3,8 492.0,12.3" fill="#e9d3d6"/>
<polygon points="606,8 612,8 609.0,12.3" fill="#e9d3d6"/>
<polygon points="692.6,8 699.4,8 696.0,12.3" fill="#e9d3d6"/>
<path d="M1287,1.5 H1278.6 V15.8 H1293.5 V9.5" fill="none" stroke="#fff" stroke-width="3"/>
<path d="M1284.6,9.8 L1292.5,1.2" fill="none" stroke="#fff" stroke-width="2.6"/>
<polygon points="1287.5,-1 1296,-1 1296,7.5" fill="#fff"/>
<rect x="108.7" y="33.3" width="8.399999999999991" height="8.200000000000003" fill="none" stroke="#c4c4c4" stroke-width="1.1"/><rect x="108.2" y="32.8" width="9.399999999999991" height="2.6" fill="#c4c4c4"/><rect x="109.8" y="31.199999999999996" width="1.2" height="2" fill="#c4c4c4"/><rect x="114.8" y="31.199999999999996" width="1.2" height="2" fill="#c4c4c4"/>
<rect x="231.5" y="33.3" width="7.800000000000011" height="8.200000000000003" fill="none" stroke="#c4c4c4" stroke-width="1.1"/><rect x="231" y="32.8" width="8.800000000000011" height="2.6" fill="#c4c4c4"/><rect x="232.6" y="31.199999999999996" width="1.2" height="2" fill="#c4c4c4"/><rect x="237.0" y="31.199999999999996" width="1.2" height="2" fill="#c4c4c4"/>
<polyline points="257.4,33.2 252,37.5 257.4,41.8" fill="none" stroke="#fff" stroke-width="1.5"/>
<polyline points="273.8,33.2 279.4,37.5 273.8,41.8" fill="none" stroke="#fff" stroke-width="1.5"/>
<polygon points="384.8,35.2 390.2,35.2 387.5,39.2" fill="#e8e8e8"/>
<polygon points="361.8,53 372.2,53 367,61.8" fill="#fff"/>
<polyline points="391.4,51 391.4,61.4 404.7,61.4" fill="none" stroke="#dfe7f5" stroke-width="1.2"/>
<polyline points="393.2,57.4 397.1,53 400.3,56.2 404.7,52.1" fill="none" stroke="#dfe7f5" stroke-width="1.2"/>
<path d="M420.3,49.4 V63.4 M427.3,49.4 V63.4 M417.4,52.2 H420.3 M420.3,60.6 H427.3 M427.3,53.8 H430.2" fill="none" stroke="#e0e0e0" stroke-width="1.3"/>
<polygon points="454.7,55.4 459.6,55.4 457.15,59" fill="#e8e8e8"/>
<path d="M1447.6,34.6 H1450.6 a3.6,3.6 0 0 1 0,7.2 H1446.8" fill="none" stroke="#f0f0f0" stroke-width="2"/>
<polygon points="1442.6,34.3 1448,30.2 1448,38.4" fill="#f0f0f0"/>
<path d="M1481.4,34.6 H1478.4 a3.6,3.6 0 0 0 0,7.2 H1482.2" fill="none" stroke="#6e6e6e" stroke-width="2"/>
<polygon points="1486.4,34.3 1481,30.2 1481,38.4" fill="#6e6e6e"/>
<polyline points="1339.4,51.2 1334.4,56.7 1339.4,62.2" fill="none" stroke="#f0f0f0" stroke-width="1.7"/>
<polyline points="1345.6,51.2 1340.6,56.7 1345.6,62.2" fill="none" stroke="#f0f0f0" stroke-width="1.7"/>
<path d="M1361.2,58.6 L1367.8,50.6 L1370.9,53.2 L1364.3,61.2 Z" fill="#d4d4d4"/>
<polygon points="1360.4,59.6 1363.4,62.1 1358,63.4" fill="#d4d4d4"/>
<path d="M1453,53 H1461 M1453,55.6 H1459 M1453,58.2 H1457" fill="none" stroke="#bdbdbd" stroke-width="1.3"/>
<path d="M1456.2,60.2 L1464.2,52.6" fill="none" stroke="#f0f0f0" stroke-width="2.4"/>
<polygon points="1453.6,62 1457.6,61.4 1455.2,58.8" fill="#f0f0f0"/>
<path d="M1459.5,61.4 H1467.4" fill="none" stroke="#f0f0f0" stroke-width="1.3"/>
<path d="M1493.61,55.60 L1493.61,57.80 L1491.74,57.91 L1491.12,59.41 L1492.36,60.81 L1490.81,62.36 L1489.41,61.12 L1487.91,61.74 L1487.80,63.61 L1485.60,63.61 L1485.49,61.74 L1483.99,61.12 L1482.59,62.36 L1481.04,60.81 L1482.28,59.41 L1481.66,57.91 L1479.79,57.80 L1479.79,55.60 L1481.66,55.49 L1482.28,53.99 L1481.04,52.59 L1482.59,51.04 L1483.99,52.28 L1485.49,51.66 L1485.60,49.79 L1487.80,49.79 L1487.91,51.66 L1489.41,52.28 L1490.81,51.04 L1492.36,52.59 L1491.12,53.99 L1491.74,55.49Z M1484.40,56.70 a2.30,2.30 0 1,0 4.60,0 a2.30,2.30 0 1,0 -4.60,0Z" fill="#f0f0f0" fill-rule="evenodd"/>
<circle cx="626.5" cy="77.4" r="3.5" fill="none" stroke="#8c949c" stroke-width="1.1"/>
<path d="M620.7,77.4 H632.3 M626.5,71.6 V83.2" fill="none" stroke="#8c949c" stroke-width="1.1"/>
<path d="M688,81 L694.6,74.6" fill="none" stroke="#8c949c" stroke-width="1.8"/>
<path d="M690.2,81.7 H696.2" fill="none" stroke="#8c949c" stroke-width="1.1"/>
<rect x="769" y="73" width="3.8" height="2.9" fill="#8c949c"/>
<path d="M774.4,73.5 H778.1 M774.4,75.3 H778.1 M769,77.4 H778.1 M769,79.2 H778.1 M769,81 H778.1 M769,82.6 H778.1" fill="none" stroke="#8c949c" stroke-width="0.9"/>
<circle cx="833.9" cy="76" r="3.9" fill="none" stroke="#8c949c" stroke-width="1.1"/>
<path d="M836.8,78.9 L840.7,82.4" fill="none" stroke="#8c949c" stroke-width="1.9"/>
<path d="M27.22,175.01 L27.22,176.99 L25.53,177.09 L24.98,178.44 L26.10,179.70 L24.70,181.10 L23.44,179.98 L22.09,180.53 L21.99,182.22 L20.01,182.22 L19.91,180.53 L18.56,179.98 L17.30,181.10 L15.90,179.70 L17.02,178.44 L16.47,177.09 L14.78,176.99 L14.78,175.01 L16.47,174.91 L17.02,173.56 L15.90,172.30 L17.30,170.90 L18.56,172.02 L19.91,171.47 L20.01,169.78 L21.99,169.78 L22.09,171.47 L23.44,172.02 L24.70,170.90 L26.10,172.30 L24.98,173.56 L25.53,174.91Z M18.80,176.00 a2.20,2.20 0 1,0 4.40,0 a2.20,2.20 0 1,0 -4.40,0Z" fill="#878b8f" fill-rule="evenodd"/>
<path d="M196.6,176.4 L191.8,181.2" fill="none" stroke="#878b8f" stroke-width="1.3"/>
<path d="M195.2,173.6 L199.6,178 L201,176.2 L202.8,174.6 L198.6,170.2 L197,172 Z" fill="#878b8f"/>
<path d="M220.8,170.7 L213.4,178.8" fill="none" stroke="#878b8f" stroke-width="1.4"/>
<polygon points="211.8,174.2 211.8,180.6 218.2,180.6" fill="#878b8f"/>
<path d="M230.8,171.8 L239.6,180.7 M239.6,171.8 L230.8,180.7" fill="none" stroke="#878b8f" stroke-width="1.4"/>
<path d="M14.6,157.2 L21.6,163.6 M14.6,159.6 L19,163.6 M14.6,162 L16.4,163.6" fill="none" stroke="#777" stroke-width="0.9"/>
</svg>
</body></html>
